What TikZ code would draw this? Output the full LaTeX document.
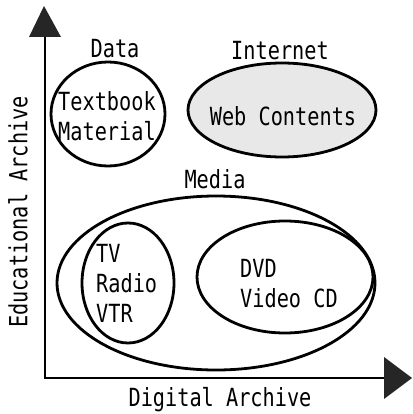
\documentclass[tikz,border=0pt]{standalone}
\usepackage{fontspec}
\newfontfamily\gfont[FakeStretch=0.81]{DejaVu Sans Mono}
\begin{document}
\begin{tikzpicture}[x=1pt,y=-1pt,
  lab/.style={font=\gfont\fontsize{25}{30}\selectfont, inner sep=0pt},
  ellline/.style={line width=2.8pt},
  axis/.style={line width=2.2pt},
  tip/.style={fill=black!85, draw=none}]
\useasboundingbox (0,0) rectangle (412,414);
% axes
\coordinate (O) at (45,378);
\coordinate (ytop) at (45,36);
\coordinate (xend) at (384,378);
\draw[axis] (ytop) -- (O) -- (xend);
\fill[tip] (29,37) -- (44,6) -- (61,37) -- cycle;
\fill[tip] (384,357) -- (412,378) -- (384,399) -- cycle;
\node[lab, rotate=90] (ylab) at (18,212) {Educational Archive};
\node[lab] (xlab) at (220,400) {Digital Archive};
% Data
\draw[ellline] (108,114) ellipse [x radius=57, y radius=52];
\node[lab] (data) at (115,49) {Data};
\node[lab, align=center] (tb) at (107,116) {Textbook\\Material};
% Internet
\draw[ellline, fill=black!9] (282,110) ellipse [x radius=94, y radius=47];
\node[lab] (inet) at (280,51) {Internet};
\node[lab] (web) at (283,116) {Web Contents};
% Media
\node[lab] (media) at (215,179) {Media};
\draw[ellline] (216,283) ellipse [x radius=159, y radius=87];
\draw[ellline] (128,283) ellipse [x radius=46, y radius=60];
\node[lab, align=left, anchor=west] (tv) at (96,283) {TV\\Radio\\VTR};
\draw[ellline] (285,277) ellipse [x radius=88, y radius=56];
\node[lab, align=left, anchor=west] (dvd) at (240,284) {DVD\\Video CD};
\end{tikzpicture}
\end{document}
